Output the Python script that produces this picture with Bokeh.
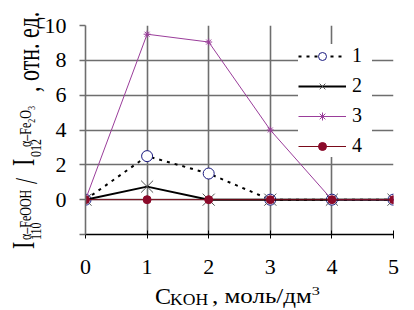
from bokeh.plotting import figure
from bokeh.models import Range1d, FixedTicker, Legend, LegendItem, Div
from bokeh.layouts import column, row
from bokeh.embed import file_html
from bokeh.resources import INLINE

# ---- data ----
c_koh = [0, 1, 2, 3, 4, 5]
series1 = [0, 2.5, 1.5, 0, 0, 0]
series2 = [0, 0.75, 0, 0, 0, 0]
series3 = [0, 9.5, 9.05, 4, 0, 0]
series4 = [0, 0, 0, 0, 0, 0]
series_names = ["1", "2", "3", "4"]
x_ticks = [0, 1, 2, 3, 4, 5]
y_ticks = [-2, 0, 2, 4, 6, 8, 10]

FONT = "'Liberation Serif'"
CSSFONT = "'Liberation Serif', 'Times New Roman', serif"

YW = 37          # width of the y-title column
PW = 414 - YW    # figure width
PH = 286         # figure height
XH = 24          # height of the x-title strip

p = figure(width=PW, height=PH, output_backend="svg", toolbar_location=None,
           x_range=Range1d(0, 5), y_range=Range1d(-2, 10),
           min_border_left=48, min_border_right=21, min_border_top=25, min_border_bottom=52)
p.outline_line_color = None
p.background_fill_color = "white"
p.border_fill_color = None

# grid
grid_col = "#6e6e6e"
p.xgrid.ticker = FixedTicker(ticks=x_ticks)
p.ygrid.ticker = FixedTicker(ticks=y_ticks)
for g in (p.xgrid, p.ygrid):
    g.grid_line_color = grid_col
    g.grid_line_width = 1.6

# axes
xa = p.xaxis[0]
xa.ticker = FixedTicker(ticks=x_ticks)
xa.axis_line_color = "black"
xa.axis_line_width = 1.6
xa.major_tick_line_color = "black"
xa.major_tick_in = 4
xa.major_tick_out = 4
xa.minor_tick_line_color = None
xa.major_label_text_font = FONT
xa.major_label_text_font_size = "22px"
xa.major_label_text_color = "black"
xa.major_label_standoff = 21

ya = p.yaxis[0]
ya.ticker = FixedTicker(ticks=y_ticks)
ya.axis_line_color = grid_col
ya.axis_line_width = 1.6
ya.major_tick_line_color = grid_col
ya.major_tick_line_width = 1.6
ya.major_tick_in = 0
ya.major_tick_out = 6
ya.minor_tick_line_color = None
ya.major_label_text_font = FONT
ya.major_label_text_font_size = "22px"
ya.major_label_text_color = "black"
ya.major_label_standoff = 13
ya.major_label_overrides = {-2: ""}

# series
l1 = p.line(c_koh, series1, line_color="black", line_width=2, line_dash="3 5")
m1 = p.scatter(c_koh, series1, marker="circle", size=11, fill_color="white",
               line_color="#1a1a80", line_width=1)
l2 = p.line(c_koh, series2, line_color="black", line_width=2)
m2 = p.scatter(c_koh, series2, marker="x", size=17, line_color="#505050", line_width=1)
l3 = p.line(c_koh, series3, line_color="#9a3d9a", line_width=1)
m3 = p.scatter(c_koh, series3, marker="asterisk", size=7, line_color="#9a3d9a", line_width=1)
l4 = p.line(c_koh, series4, line_color="#7a0a1a", line_width=1)
m4 = p.scatter(c_koh, series4, marker="circle", size=8, fill_color="#8b0a2a",
               line_color="#8b0a2a")

legend = Legend(items=[
    LegendItem(label=series_names[0], renderers=[l1, m1]),
    LegendItem(label=series_names[1], renderers=[l2, m2]),
    LegendItem(label=series_names[2], renderers=[l3, m3]),
    LegendItem(label=series_names[3], renderers=[l4, m4]),
], location=(213, 77))
legend.background_fill_color = "white"
legend.background_fill_alpha = 1
legend.border_line_color = None
legend.label_text_font = FONT
legend.label_text_font_size = "20px"
legend.label_text_color = "black"
legend.glyph_width = 48
legend.glyph_height = 20
legend.spacing = 7
legend.padding = 5
legend.label_standoff = 6
legend.margin = 0
p.add_layout(legend, "center")


# ---- axis titles as HTML (real sub/superscripts) ----
def rot(txt, left, top, size, stretch=1.4):
    return (f'<div style="position:absolute; left:{left}px; top:{top}px; '
            f'transform-origin:0 0; transform:rotate(-90deg) scale(1,{stretch}); '
            f'white-space:nowrap; line-height:1; font-size:{size}px; '
            f'font-family:{CSSFONT}; color:black;">{txt}</div>')


def hor(txt, left, top, size, stretch=1.0):
    return (f'<div style="position:absolute; left:{left}px; top:{top}px; '
            f'transform-origin:0 0; transform:scale({stretch},1); '
            f'white-space:nowrap; line-height:1; font-size:{size}px; '
            f'font-family:{CSSFONT}; color:black;">{txt}</div>')


sub_small = '<span style="font-size:8px; position:relative; top:3px;">{}</span>'
y_html = (f'<div style="position:relative; width:{YW}px; height:{PH}px; overflow:visible;">'
          + rot("I", 9, 249, 22)
          + rot("α–FeOOH", 17, 240, 12)
          + rot("110", 28, 240, 12, 1.3)
          + rot("/", 12, 184, 22)
          + rot("I", 9, 166, 22)
          + rot("α–Fe" + sub_small.format("2") + "O" + sub_small.format("3"), 17, 147, 12)
          + rot("012", 28, 157, 12, 1.3)
          + rot(", отн. ед.", 14, 92, 22)
          + '</div>')
ydiv = Div(text=y_html, width=YW, height=PH, margin=0, styles={"overflow": "visible"})

x_html = (f'<div style="position:relative; width:414px; height:{XH}px; overflow:visible;">'
          + hor("C", 155, -2, 24, 1.0)
          + hor("KOH", 170, 6, 16, 1.1)
          + hor(', моль/дм<span style="font-size:13px; position:relative; top:-8px;">3</span>',
                212, 0, 20, 1.25)
          + '</div>')
xdiv = Div(text=x_html, width=414, height=XH, margin=0, styles={"overflow": "visible"})

layout = column(row(ydiv, p, spacing=0), xdiv, spacing=0)

open("out.html", "w").write(file_html(layout, INLINE))
